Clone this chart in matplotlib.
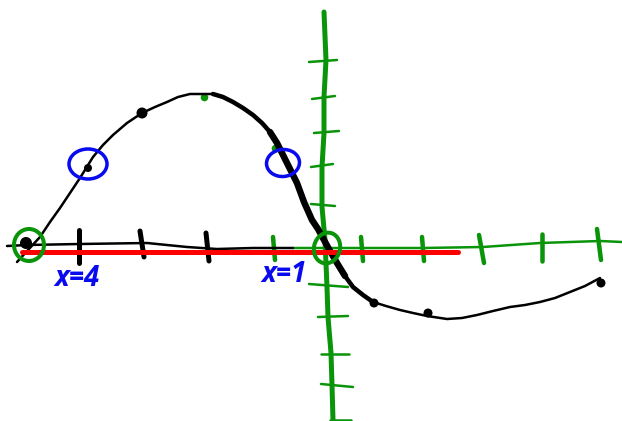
import matplotlib
matplotlib.use('Agg')
import matplotlib.pyplot as plt
from matplotlib.patches import Ellipse

GREEN = '#0a940a'
BLUE = '#0a0aee'
RED = '#ff0000'

# hand drawn curve in pixels
curve_left_x = [17, 28, 40, 50, 60, 70, 80, 93, 103, 113, 127, 142, 155, 167, 178, 190, 202, 213]
curve_left_y = [262, 250, 237, 222, 208, 193, 178, 157, 145, 135, 123, 113, 107, 102, 97, 94, 94, 94]
curve_mid_x = [213, 223, 233, 243, 253, 262, 270]
curve_mid_y = [94, 97, 102, 108, 115, 123, 132]
curve_thick_x = [270, 277, 283, 290, 297, 304, 312, 318, 324, 330, 337, 345, 353, 363, 373]
curve_thick_y = [132, 143, 155, 169, 183, 202, 220, 229, 240, 251, 263, 276, 287, 295, 302]
curve_right_x = [373, 386, 400, 413, 427, 447, 462, 477, 493, 510, 525, 540, 555, 570, 585, 600]
curve_right_y = [302, 306, 310, 313, 316, 319, 318, 315, 311, 307, 305, 302, 298, 292, 286, 278]

# axes
yaxis_x = [324, 326, 324, 324, 322, 322, 325, 327, 328, 331, 332, 333]
yaxis_y = [12, 60, 97, 133, 167, 207, 240, 287, 317, 353, 385, 420]
xaxis_black_x = [7, 27, 80, 147, 187, 217, 253, 293]
xaxis_black_y = [246, 245, 244, 243, 247, 249, 248, 248]
xaxis_green_x = [293, 423, 483, 540, 600, 622]
xaxis_green_y = [248, 248, 247, 243, 241, 242]
red_x = [22, 458]
red_y = [252, 252]

# tick strokes (x0, y0, x1, y1)
black_ticks = [(79, 230, 79, 263), (140, 231, 144, 257), (206, 233, 209, 261)]
green_xticks = [(273, 237, 275, 260), (361, 237, 363, 261), (422, 237, 424, 261),
                (479, 235, 484, 263), (542, 234, 542, 261), (597, 229, 601, 260)]
green_yticks = [(309, 62, 337, 60), (312, 99, 335, 96), (314, 133, 339, 131),
                (311, 167, 333, 164), (311, 204, 335, 206), (309, 284, 348, 287),
                (318, 317, 348, 316), (321, 354, 349, 354), (321, 384, 353, 387),
                (330, 420, 351, 420)]

dots_x = [26, 88, 142, 374, 428, 601]
dots_y = [243, 168, 113, 303, 313, 283]
dots_size = [12, 8, 11, 9, 9, 9]

green_bits_x = [204, 275]
green_bits_y = [97, 148]

# circles (cx, cy, w, h, angle)
green_circles = [(29, 245, 30, 32, 0), (327, 248, 26, 31, 15)]
blue_circles = [(88, 164, 38, 30, 0), (283, 163, 33, 27, -5)]

labels = ['x=4', 'x=1']
labels_x = [77, 284]
labels_y = [278, 275]


def px(w):
    return w * 72 / 100


fig = plt.figure(figsize=(6.22, 4.21), dpi=100)
ax = fig.add_axes([0, 0, 1, 1])
ax.set_xlim(0, 622)
ax.set_ylim(421, 0)
ax.axis('off')

round_line = dict(solid_capstyle='round', solid_joinstyle='round')

ax.plot(xaxis_green_x, xaxis_green_y, color=GREEN, lw=px(2.5), **round_line)
ax.plot(yaxis_x, yaxis_y, color=GREEN, lw=px(5), **round_line)
for x0, y0, x1, y1 in green_yticks:
    ax.plot([x0, x1], [y0, y1], color=GREEN, lw=px(2.5), **round_line)
for x0, y0, x1, y1 in green_xticks:
    ax.plot([x0, x1], [y0, y1], color=GREEN, lw=px(4.5), **round_line)
ax.scatter(green_bits_x, green_bits_y, s=30, color=GREEN, linewidths=0)

ax.plot(xaxis_black_x, xaxis_black_y, color='black', lw=px(2.5), **round_line)
for x0, y0, x1, y1 in black_ticks:
    ax.plot([x0, x1], [y0, y1], color='black', lw=px(5), **round_line)

ax.plot(curve_left_x, curve_left_y, color='black', lw=px(2.5), **round_line)
ax.plot(curve_mid_x, curve_mid_y, color='black', lw=px(4.5), **round_line)
ax.plot(curve_thick_x[:-3], curve_thick_y[:-3], color='black', lw=px(6.5), **round_line)
ax.plot(curve_thick_x[-4:], curve_thick_y[-4:], color='black', lw=px(4.5), **round_line)
ax.plot(curve_right_x, curve_right_y, color='black', lw=px(2.5), **round_line)

ax.scatter(dots_x, dots_y, s=[(px(d)) ** 2 for d in dots_size], color='black', linewidths=0, zorder=3)

ax.plot(red_x, red_y, color=RED, lw=px(5), solid_capstyle='round', zorder=4)

for cx, cy, w, h, ang in green_circles:
    ax.add_patch(Ellipse((cx, cy), w, -h, angle=ang, fill=False, edgecolor=GREEN, lw=px(4), zorder=5))
for cx, cy, w, h, ang in blue_circles:
    ax.add_patch(Ellipse((cx, cy), w, -h, angle=ang, fill=False, edgecolor=BLUE, lw=px(3.5), zorder=5))

for t, x, y in zip(labels, labels_x, labels_y):
    ax.text(x, y, t, color=BLUE, fontsize=20, fontweight='bold', fontstyle='italic',
            family='Open Sans', ha='center', va='center', zorder=5)

fig.savefig('out.png', dpi=100)
